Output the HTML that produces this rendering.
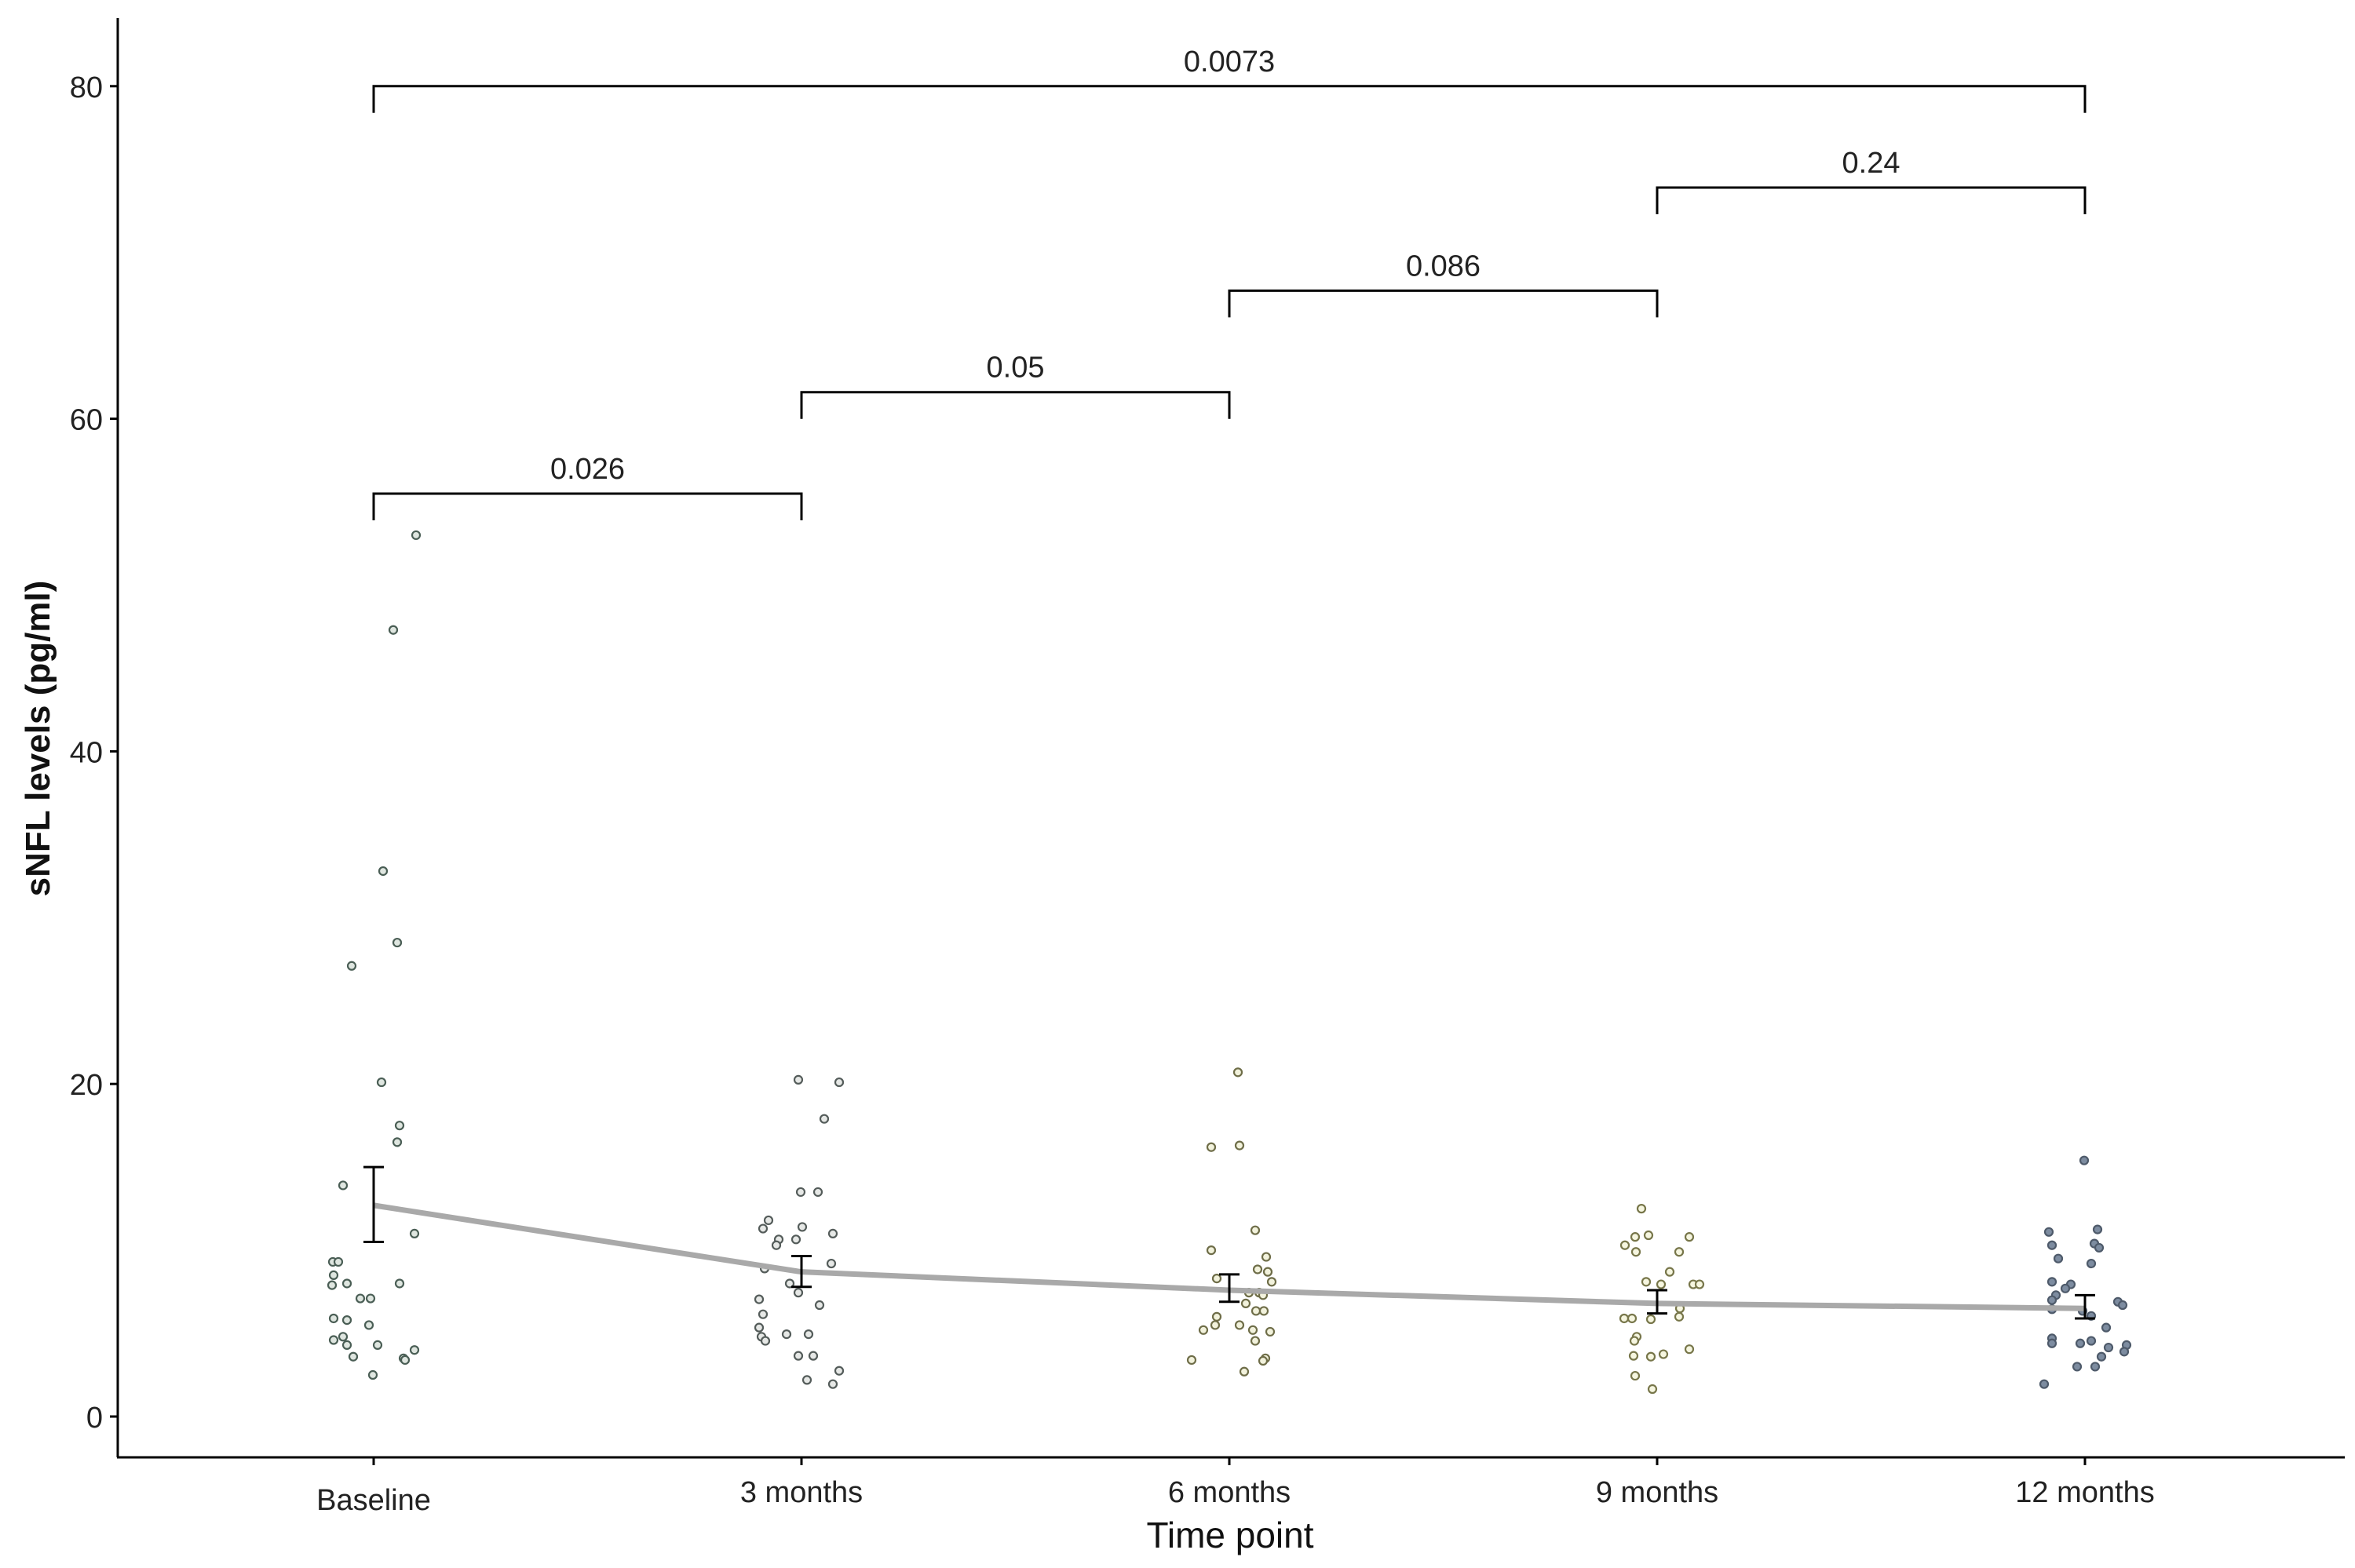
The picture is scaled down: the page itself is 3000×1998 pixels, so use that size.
<!DOCTYPE html>
<html><head><meta charset="utf-8"><style>
html,body{margin:0;padding:0;background:#fff;}
svg{display:block;font-family:"Liberation Sans",sans-serif;}
</style></head><body>
<svg id="chart" width="3000" height="1998" viewBox="0 0 3000 1998" xmlns="http://www.w3.org/2000/svg">
<g id="axes"></g>
<g id="marks"></g>
<g id="brackets"></g>
</svg>
<script>
const categories = ["Baseline","3 months","6 months","9 months","12 months"];
const yTicks = [0,20,40,60,80];
const means = [12.7, 8.7, 7.6, 6.8, 6.5];
const seUpper = [15.0, 9.65, 8.55, 7.6, 7.3];
const seLower = [10.5, 7.8, 6.9, 6.2, 5.9];
const vals0 = [53,47.3,32.8,28.5,27.1,20.1,17.5,16.5,13.9,11.0,9.3,9.3,8.5,7.9,8.0,8.0,7.1,7.1,5.9,5.8,5.5,4.8,4.6,4.3,4.3,3.6,3.5,4.0,3.4,2.5];
const jit0 = [54,25,12,30,-28,10,33,30,-39,52,-52,-45,-51,-53,-34,33,-17,-4,-51,-34,-6,-39,-51,-34,5,-26,38,52,40,-1];
const vals1 = [20.25,20.1,17.9,13.5,13.5,11.8,11.3,11.4,11.0,10.65,10.65,10.3,9.2,8.9,8.0,7.45,7.05,6.7,6.15,5.35,4.8,4.55,4.95,4.95,3.65,3.65,2.75,2.2,1.95];
const jit1 = [-4,48,29,-1,21,-42,-49,1,40,-29,-7,-32,38,-47,-15,-4,-54,23,-49,-54,-51,-46,-19,9,-4,15,48,7,40];
const vals2 = [20.7,16.2,16.3,11.2,10.0,9.6,8.85,8.7,8.1,8.3,7.45,7.45,7.3,6.8,6.35,6.35,6.0,5.5,5.5,5.2,5.2,5.1,4.55,3.4,3.5,3.35,2.7];
const jit2 = [11,-23,13,33,-23,47,36,49,54,-16,25,38,43,21,34,44,-16,-18,13,-33,30,52,33,-48,46,43,19];
const vals3 = [12.5,10.8,10.9,10.8,10.3,9.9,9.9,8.7,8.1,7.95,7.95,7.95,6.5,6.0,5.9,5.9,5.85,4.8,4.55,4.05,3.65,3.6,3.75,2.45,1.65];
const jit3 = [-20,-28,-11,41,-41,-27,28,16,-14,5,46,54,29,28,-42,-32,-8,-26,-29,41,-30,-8,8,-28,-6];
const vals4 = [15.4,11.1,11.25,10.3,10.4,10.15,9.5,9.2,8.1,7.95,7.7,7.3,7.0,6.9,6.7,6.45,6.35,6.05,5.35,4.7,4.4,4.4,4.55,4.15,4.3,3.9,3.6,3.0,3.0,1.95];
const jit4 = [-1,-46,16,-42,12,18,-34,8,-42,-18,-25,-37,-42,42,48,-42,-3,8,27,-42,-42,-6,8,30,53,50,21,-10,13,-52];
const pValues = ["0.0073","0.24","0.086","0.05","0.026"];
const bracketFrom = [0,3,2,1,0];
const bracketTo = [4,4,3,2,1];
const bracketY = [80,73.9,67.7,61.6,55.5];

const allVals=[vals0,vals1,vals2,vals3,vals4], allJit=[jit0,jit1,jit2,jit3,jit4];
const strokes=["#4a5e55","#545c5a","#6e6d48","#77764a","#4e5a6a"];
const fills=["#dfe6e0","#e6e8e6","#f2f2dc","#f6f6e0","#7d8ca0"];
const NS="http://www.w3.org/2000/svg";
function xs(i){return 476+i*545;}
function ys(v){return 1805-v*21.19;}
function mk(tag,attrs,parent){const e=document.createElementNS(NS,tag);for(const k in attrs)e.setAttribute(k,attrs[k]);parent.appendChild(e);return e;}
const axes=document.getElementById('axes'),marks=document.getElementById('marks'),br=document.getElementById('brackets');

let e=mk('line',{x1:150,y1:23,x2:150,y2:1857,stroke:'#000','stroke-width':3},axes);

e=mk('line',{x1:149,y1:1857,x2:2987,y2:1857,stroke:'#000','stroke-width':3},axes);

yTicks.forEach(t=>{
  const y=ys(t);
  let l=mk('line',{x1:140,y1:y,x2:150,y2:y,stroke:'#000','stroke-width':3},axes);
  
  let tx=mk('text',{x:131,y:y+14,'text-anchor':'end','font-size':38,fill:'#222'},axes);
  tx.textContent=t;
  
});
categories.forEach((c,i)=>{
  const x=xs(i);
  let l=mk('line',{x1:x,y1:1857,x2:x,y2:1867,stroke:'#000','stroke-width':3},axes);
  
  let tx=mk('text',{x:x,y:i==0?1924:1914,'text-anchor':'middle','font-size':38,fill:'#222'},axes);
  tx.textContent=c;
  
});
e=mk('text',{x:1567,y:1972,'text-anchor':'middle','font-size':46,fill:'#111'},axes);
e.textContent='Time point';

e=mk('text',{x:0,y:0,'text-anchor':'middle','font-size':44,'font-weight':'bold',fill:'#111',transform:'translate(63,941) rotate(-90)'},axes);
e.textContent='sNFL levels (pg/ml)';


// points
allVals.forEach((arr,i)=>{
  arr.forEach((v,j)=>{
    let c=mk('circle',{cx:xs(i)+allJit[i][j],cy:ys(v),r:5,fill:fills[i],stroke:strokes[i],'stroke-width':2.2},marks);
    
  });
});
// mean line
let pts=means.map((m,i)=>xs(i)+','+ys(m)).join(' ');
e=mk('polyline',{points:pts,fill:'none',stroke:'#a9a9a9','stroke-width':7},marks);

// error bars
means.forEach((m,i)=>{
  const x=xs(i),yu=ys(seUpper[i]),yl=ys(seLower[i]);
  let g=mk('path',{d:`M${x-13},${yu}H${x+13}M${x},${yu}V${yl}M${x-13},${yl}H${x+13}`,stroke:'#000','stroke-width':3,fill:'none'},marks);
  
});
// brackets
pValues.forEach((p,k)=>{
  const x1=xs(bracketFrom[k]),x2=xs(bracketTo[k]),y=ys(bracketY[k]);
  let g=mk('path',{d:`M${x1},${y+34}V${y}H${x2}V${y+34}`,stroke:'#000','stroke-width':3,fill:'none'},br);
  
  let t=mk('text',{x:(x1+x2)/2,y:y-19,'text-anchor':'middle','font-size':38,fill:'#222'},br);
  t.textContent=p;
  
});
</script>
</body></html>
